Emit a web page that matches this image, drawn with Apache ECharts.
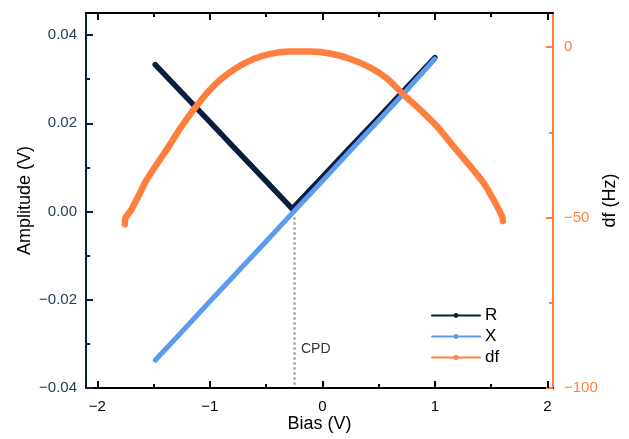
<!DOCTYPE html>
<html>
<head>
<meta charset="utf-8">
<script src="https://cdn.jsdelivr.net/npm/echarts@6/dist/echarts.min.js"></script>
<style>
  html, body { margin: 0; padding: 0; background: #ffffff; }
  #chart { width: 629px; height: 439px; }
</style>
</head>
<body>
<div id="chart"></div>
<script>
// R 幅值（V 形）
const biasR = [-1.485, -1.25, -1.0, -0.75, -0.5, -0.267, -0.15, 0, 0.25, 0.5, 0.75, 1.0];
const ampR = [0.0333, 0.0270, 0.0203, 0.0136, 0.0069, 0.0006, 0.0038, 0.0078, 0.0146, 0.0213, 0.0281, 0.0349];

// X 分量（直线）
const biasX = [-1.485, -1.25, -1.0, -0.75, -0.5, -0.25, 0, 0.25, 0.5, 0.75, 1.0];
const ampX = [-0.0337, -0.0273, -0.0204, -0.0136, -0.0068, 0.0001, 0.0069, 0.0138, 0.0206, 0.0275, 0.0346];

// df 频移
const biasDf = [-1.755, -1.75, -1.70, -1.662, -1.62, -1.573, -1.47, -1.366, -1.262, -1.144, -1.025, -0.907, -0.758, -0.61,
  -0.462, -0.284, -0.107, 0.071, 0.249, 0.427, 0.575, 0.724, 0.871, 1.02, 1.167, 1.316, 1.434, 1.52, 1.597, 1.605];
const dfHz = [-52.0, -50.2, -47.8, -45.5, -42.8, -39.6, -34.3, -29.2, -23.8, -18.4, -13.5, -9.6, -6.0, -3.5,
  -2.0, -1.3, -1.3, -1.9, -3.5, -6.0, -9.2, -14.0, -18.4, -23.3, -29.2, -35.0, -39.9, -44.7, -49.6, -51.0];

// 刻度
const biasMajor = [-2, -1, 0, 1, 2];
const biasMinor = [-1.5, -0.5, 0.5, 1.5];
const ampMajor = [-0.04, -0.02, 0, 0.02, 0.04];
const ampMinor = [-0.03, -0.01, 0.01, 0.03];
const dfMajor = [-100, -50, 0];
const dfMinor = [-75, -25];

// CPD 标注
const cpdBias = -0.245;
const cpdSpan = [-0.0013, -0.0393];

const FONT = "'Liberation Sans', Arial, sans-serif";
const NAVY = "#0b1c3d";
const BLUE = "#5b9bf0";
const ORANGE = "#ff7f3f";

const zip = (xs, ys) => xs.map((x, i) => [x, ys[i]]);
const minus = (s) => String(s).replace("-", "\u2212");

const gridRect = { left: 86, right: 76, top: 13, bottom: 51 };
const biasRange = { min: -2.1, max: 2.05 };
const ampRange = { min: -0.04, max: 0.045 };
const dfRange = { min: -100, max: 10 };

// 刻度轴：叠加在额外的 grid 上，只画向内的短刻度
const tickX = (grid, pos, values, len) => ({
  type: "value", gridIndex: grid, position: pos, ...biasRange,
  axisLine: { show: false, onZero: false },
  axisTick: { show: true, inside: true, length: len, customValues: values, lineStyle: { width: 2, color: "#000" } },
  axisLabel: { show: false },
  splitLine: { show: false }
});
const tickY = (grid, pos, range, values, len, color) => ({
  type: "value", gridIndex: grid, position: pos, ...range,
  axisLine: { show: false, onZero: false },
  axisTick: { show: true, inside: true, length: len, customValues: values, lineStyle: { width: 2, color } },
  axisLabel: { show: false },
  splitLine: { show: false }
});

const chart = echarts.init(document.getElementById("chart"));

const option = {
  backgroundColor: "#ffffff",
  animation: false,
  textStyle: { fontFamily: FONT },
  grid: [
    { ...gridRect },
    { ...gridRect },
    { ...gridRect }
  ],
  legend: {
    orient: "vertical",
    left: 426,
    top: 302,
    itemWidth: 48,
    itemHeight: 6,
    itemGap: 4,
    textStyle: { fontSize: 17, color: "#000", fontFamily: FONT, lineHeight: 17 },
    data: ["R", "X", "df"]
  },
  xAxis: [
    {
      type: "value",
      gridIndex: 0,
      position: "bottom",
      ...biasRange,
      name: "Bias (V)",
      nameLocation: "middle",
      nameGap: 27,
      nameMoveOverlap: false,
      nameTextStyle: { fontSize: 18, color: "#000", fontFamily: FONT },
      axisLine: { onZero: false, lineStyle: { color: "#000", width: 2 } },
      axisTick: { show: false },
      axisLabel: { customValues: biasMajor, margin: 11, fontSize: 15, color: "#000", formatter: (v) => minus(v) },
      splitLine: { show: false }
    },
    {
      type: "value",
      gridIndex: 0,
      position: "top",
      ...biasRange,
      axisLine: { onZero: false, lineStyle: { color: "#000", width: 2 } },
      axisTick: { show: false },
      axisLabel: { show: false },
      splitLine: { show: false }
    },
    tickX(1, "bottom", biasMajor, 7),
    tickX(1, "top", biasMajor, 7),
    tickX(2, "bottom", biasMinor, 4),
    tickX(2, "top", biasMinor, 4)
  ],
  yAxis: [
    {
      type: "value",
      gridIndex: 0,
      position: "left",
      ...ampRange,
      name: "Amplitude (V)",
      nameLocation: "middle",
      nameRotate: 90,
      nameGap: 52,
      nameMoveOverlap: false,
      nameTextStyle: { fontSize: 18, color: "#000", fontFamily: FONT },
      axisLine: { show: true, onZero: false, lineStyle: { color: NAVY, width: 2 } },
      axisTick: { show: false },
      axisLabel: { customValues: ampMajor, margin: 9, fontSize: 15, color: "#2a3a5e", formatter: (v) => minus(v.toFixed(2)) },
      splitLine: { show: false }
    },
    {
      type: "value",
      gridIndex: 0,
      position: "right",
      ...dfRange,
      name: "df (Hz)",
      nameLocation: "middle",
      nameRotate: 90,
      nameGap: 48,
      nameMoveOverlap: false,
      nameTextStyle: { fontSize: 18, color: "#000", fontFamily: FONT },
      axisLine: { show: true, onZero: false, lineStyle: { color: ORANGE, width: 2 } },
      axisTick: { show: false },
      axisLabel: { customValues: dfMajor, margin: 11, fontSize: 15, color: ORANGE, formatter: (v) => minus(v) },
      splitLine: { show: false }
    },
    tickY(1, "left", ampRange, ampMajor, 7, NAVY),
    tickY(1, "right", dfRange, dfMajor, 7, ORANGE),
    tickY(2, "left", ampRange, ampMinor, 4, NAVY),
    tickY(2, "right", dfRange, dfMinor, 4, ORANGE)
  ],
  series: [
    {
      name: "R",
      type: "line",
      xAxisIndex: 0,
      yAxisIndex: 0,
      data: zip(biasR, ampR),
      symbol: "circle",
      showSymbol: false,
      color: NAVY,
      lineStyle: { width: 5.5, color: NAVY, cap: "round", join: "round" },
      z: 2
    },
    {
      name: "X",
      type: "line",
      xAxisIndex: 0,
      yAxisIndex: 0,
      data: zip(biasX, ampX),
      symbol: "circle",
      showSymbol: false,
      color: BLUE,
      lineStyle: { width: 5, color: BLUE, cap: "round", join: "round" },
      markLine: {
        silent: true,
        symbol: "none",
        label: { show: false },
        lineStyle: { color: "#a6a6a6", width: 2.5, type: [2.5, 2.5] },
        data: [[{ coord: [cpdBias, cpdSpan[0]] }, { coord: [cpdBias, cpdSpan[1]] }]]
      },
      z: 3
    },
    {
      name: "df",
      type: "line",
      xAxisIndex: 0,
      yAxisIndex: 1,
      data: zip(biasDf, dfHz),
      symbol: "circle",
      showSymbol: false,
      smooth: 0.2,
      color: ORANGE,
      lineStyle: { width: 6.5, color: ORANGE, cap: "round", join: "round" },
      z: 4
    }
  ],
  graphic: [
    {
      type: "text",
      left: 301,
      top: 342,
      style: { text: "CPD", fontSize: 14, fill: "#333", fontFamily: FONT }
    }
  ]
};

chart.setOption(option);
</script>
</body>
</html>
